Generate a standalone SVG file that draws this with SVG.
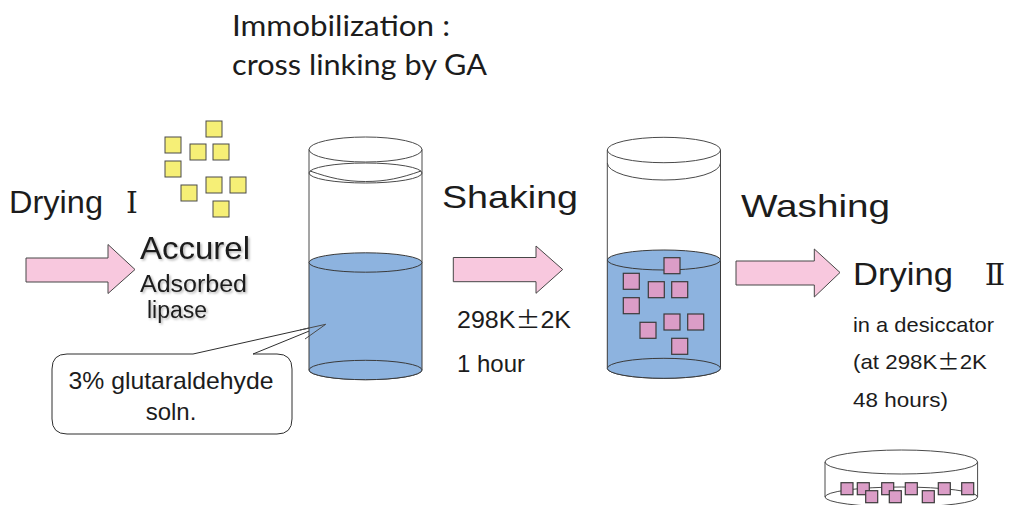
<svg xmlns="http://www.w3.org/2000/svg" width="1009" height="505" viewBox="0 0 1009 505">
  <style>
    .txt { font-family: "Liberation Sans", Arial, sans-serif; fill: #1c1c1c; }
    .title { font-family: Lato, "Open Sans", sans-serif; fill: #1c1c1c; font-size: 29px; }
    .roman { font-family: "DejaVu Serif", "Liberation Serif", serif; fill: #1c1c1c; }
    .wide { font-family: "Noto Sans CJK JP", "Noto Sans CJK SC", sans-serif; }
    .arrow { fill: #f8c8de; stroke: #474747; stroke-width: 1; }
    .glass { fill: none; stroke: #4a4a4a; stroke-width: 1; }
    .liquid { fill: #8db3df; stroke: #3a3a3a; stroke-width: 1; }
    .bead { fill: #f6ef76; stroke: #4a4a4a; stroke-width: 1; }
    .enz { fill: #db9dc7; stroke: #3a3a3a; stroke-width: 1.2; }
    .call { fill: #ffffff; stroke: #2e2e2e; stroke-width: 1; }
  </style>
  <defs>
    <filter id="soft" x="-10%" y="-20%" width="130%" height="160%">
      <feDropShadow dx="1.5" dy="1.5" stdDeviation="1" flood-color="#000" flood-opacity="0.3"/>
    </filter>
  </defs>
  <rect width="1009" height="505" fill="#ffffff"/>

  <!-- heading -->
  <g id="heading">
    <text class="title" x="232" y="36" textLength="218" lengthAdjust="spacingAndGlyphs">Immobilization :</text>
    <text class="title" x="232" y="75" textLength="255" lengthAdjust="spacingAndGlyphs">cross linking by GA</text>
  </g>

  <!-- step 1: drying, Accurel beads -->
  <g id="drying1">
    <text class="txt" x="9" y="213" font-size="31" textLength="94" lengthAdjust="spacingAndGlyphs">Drying</text>
    <text class="roman" x="132" y="213" font-size="30" text-anchor="middle">Ⅰ</text>
  </g>
  <g id="beads">
    <rect class="bead" x="206" y="121" width="16" height="16"/>
    <rect class="bead" x="165" y="137" width="16" height="16"/>
    <rect class="bead" x="190" y="144" width="16" height="16"/>
    <rect class="bead" x="213" y="144" width="16" height="16"/>
    <rect class="bead" x="165" y="161" width="16" height="16"/>
    <rect class="bead" x="206" y="177" width="16" height="16"/>
    <rect class="bead" x="230" y="177" width="16" height="16"/>
    <rect class="bead" x="181" y="185" width="16" height="16"/>
    <rect class="bead" x="213" y="201" width="16" height="16"/>
  </g>
  <g id="accurel" filter="url(#soft)">
    <text class="txt" x="140" y="259" font-size="32" textLength="110" lengthAdjust="spacingAndGlyphs">Accurel</text>
    <text class="txt" x="140" y="292" font-size="23" textLength="107" lengthAdjust="spacingAndGlyphs">Adsorbed</text>
    <text class="txt" x="147" y="318" font-size="23">lipase</text>
  </g>

  <!-- callout body (behind the first glass) -->
  <g id="callout">
    <path class="call" d="M67,354 H193 L325.7,324.3 L253,354 H277 Q292,354 292,369 V419 Q292,434 277,434 H67 Q52,434 52,419 V369 Q52,354 67,354 Z"/>
    <text class="txt" x="171" y="389" font-size="24" text-anchor="middle" textLength="205" lengthAdjust="spacingAndGlyphs">3% glutaraldehyde</text>
    <text class="txt" x="171" y="420" font-size="24" text-anchor="middle">soln.</text>
  </g>

  <!-- glass with glutaraldehyde solution -->
  <g id="glass1">
    <path class="liquid" d="M309,262.5 V370 A56.5,9.7 0 0 0 422,370 V262.5 Z"/>
    <ellipse class="liquid" cx="365.5" cy="370" rx="56.5" ry="9.7"/>
    <ellipse class="liquid" cx="365.5" cy="262.5" rx="56.5" ry="9.7"/>
    <line class="glass" x1="309" y1="149.5" x2="309" y2="262.5"/>
    <line class="glass" x1="422" y1="149.5" x2="422" y2="262.5"/>
    <ellipse class="glass" cx="365.5" cy="149.5" rx="56.5" ry="12.5"/>
    <ellipse class="glass" cx="365.5" cy="173" rx="56.5" ry="10"/>
    <path class="glass" d="M310,171 C330,178 345,181.5 365.5,181.5 C386,181.5 401,178 421,171"/>
  </g>

  <!-- callout pointer over the liquid -->
  <g id="callout-pointer">
    <path class="glass" stroke="#2e2e2e" d="M300,330 L325.7,324.3 L305,339"/>
  </g>

  <!-- glass with immobilized enzyme particles -->
  <g id="glass2">
    <path class="liquid" d="M607.3,260 V368.3 A56.6,10 0 0 0 720.5,368.3 V260 Z"/>
    <ellipse class="liquid" cx="663.9" cy="368.3" rx="56.6" ry="10"/>
    <ellipse class="liquid" cx="663.9" cy="260" rx="56.6" ry="10"/>
    <line class="glass" x1="607.3" y1="150" x2="607.3" y2="260"/>
    <line class="glass" x1="720.5" y1="150" x2="720.5" y2="260"/>
    <ellipse class="glass" cx="663.9" cy="150" rx="56.6" ry="12.7"/>
    <path class="glass" d="M607.3,163 A56.6,17 0 0 0 720.5,163"/>
    <rect class="enz" x="664" y="257.7" width="16" height="16"/>
    <rect class="enz" x="623.3" y="273.3" width="16" height="16"/>
    <rect class="enz" x="648.3" y="281.7" width="16" height="16"/>
    <rect class="enz" x="671.7" y="281.7" width="16" height="16"/>
    <rect class="enz" x="623.3" y="297.7" width="16" height="16"/>
    <rect class="enz" x="664" y="314" width="16" height="16"/>
    <rect class="enz" x="687.7" y="314" width="16" height="16"/>
    <rect class="enz" x="640" y="322.3" width="16" height="16"/>
    <rect class="enz" x="671.7" y="338.3" width="16" height="16"/>
  </g>

  <!-- process arrows -->
  <g id="arrows">
    <path class="arrow" d="M26,258 H108 V244.5 L135,269.5 L108,293.5 V282 H26 Z"/>
    <path class="arrow" d="M453.3,257.5 H536 V246 L562.7,269.5 L536,293.3 V281.7 H453.3 Z"/>
    <path class="arrow" d="M736,261 H814.3 V249 L840,272.5 L814.3,297 V285 H736 Z"/>
  </g>

  <!-- step 2: shaking -->
  <g id="shaking">
    <text class="txt" x="442" y="208" font-size="32" textLength="136" lengthAdjust="spacingAndGlyphs">Shaking</text>
    <text class="txt" x="457" y="328" font-size="23" textLength="114" lengthAdjust="spacingAndGlyphs">298K<tspan class="wide">±</tspan>2K</text>
    <text class="txt" x="457" y="372" font-size="24">1 hour</text>
  </g>

  <!-- step 3: washing and drying -->
  <g id="washing">
    <text class="txt" x="741" y="217" font-size="32" textLength="149" lengthAdjust="spacingAndGlyphs">Washing</text>
  </g>
  <g id="drying2">
    <text class="txt" x="853" y="285" font-size="31" textLength="100" lengthAdjust="spacingAndGlyphs">Drying</text>
    <text class="roman" x="995" y="285" font-size="30" text-anchor="middle">Ⅱ</text>
    <text class="txt" x="853" y="332" font-size="21" textLength="141" lengthAdjust="spacingAndGlyphs">in a desiccator</text>
    <text class="txt" x="853" y="369" font-size="21" textLength="134" lengthAdjust="spacingAndGlyphs">(at 298K<tspan class="wide">±</tspan>2K</text>
    <text class="txt" x="853" y="407" font-size="21" textLength="95" lengthAdjust="spacingAndGlyphs">48 hours)</text>
  </g>

  <!-- desiccator dish -->
  <g id="dish">
    <ellipse class="glass" cx="901.3" cy="497" rx="76.3" ry="10"/>
    <line class="glass" x1="825" y1="462" x2="825" y2="497"/>
    <line class="glass" x1="977.6" y1="462" x2="977.6" y2="497"/>
    <ellipse class="glass" cx="901.3" cy="462" rx="76.3" ry="12"/>
    <rect class="enz" x="841" y="482.7" width="12" height="12"/>
    <rect class="enz" x="857.3" y="482.7" width="12" height="12"/>
    <rect class="enz" x="865.7" y="490.7" width="12" height="12"/>
    <rect class="enz" x="881.7" y="482.7" width="12" height="12"/>
    <rect class="enz" x="889.3" y="490.7" width="12" height="12"/>
    <rect class="enz" x="905.3" y="482.7" width="12" height="12"/>
    <rect class="enz" x="922.3" y="490.7" width="12" height="12"/>
    <rect class="enz" x="938.3" y="482.7" width="12" height="12"/>
    <rect class="enz" x="961.7" y="482.7" width="12" height="12"/>
  </g>
</svg>
